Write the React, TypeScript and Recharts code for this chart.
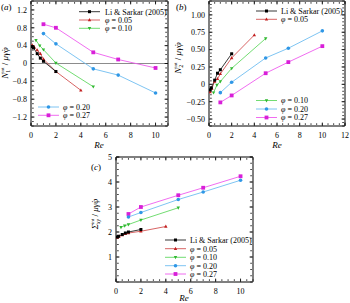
import React from "react";
import { LineChart, Line, XAxis, YAxis, ReferenceLine } from "recharts";

// Re values per series
const reLiSarkar = [0.1, 0.2, 0.5, 0.75, 1, 2];
const rePhi005 = [0.1, 0.25, 0.5, 0.75, 1, 2, 4];
const rePhi010 = [0.4, 0.7, 1, 2, 5];
const rePhi020 = [1, 2, 5, 7, 10];
const rePhi027 = [1, 2, 5, 7, 10];

// (a) N1
const n1LiSarkar = [0.38, 0.35, 0.22, 0.12, 0.05, -0.18];
const n1Phi005 = [0.41, 0.37, 0.3, 0.22, 0.1, -0.18, -0.6];
const n1Phi010 = [0.52, 0.4, 0.31, 0.01, -0.52];
const n1Phi020 = [0.67, 0.44, -0.12, -0.26, -0.66];
const n1Phi027 = [0.88, 0.8, 0.25, 0.09, -0.1];

// (b) N2
const n2LiSarkar = [-0.08, -0.05, 0.06, 0.16, 0.21, 0.44];
const n2Phi005 = [-0.11, -0.06, 0.04, 0.08, 0.15, 0.38, 0.71];
const n2Phi010 = [-0.12, -0.01, 0.04, 0.23, 0.66];
const n2Phi020 = [-0.12, 0.03, 0.38, 0.52, 0.77];
const n2Phi027 = [-0.26, -0.16, 0.16, 0.32, 0.55];

// (c) Sigma_xy
const sxyLiSarkar = [1.8, 1.83, 1.9, 1.96, 2.0, 2.1];
const sxyPhi005 = [1.78, 1.83, 1.88, 1.93, 1.96, 2.03, 2.22];
const sxyPhi010 = [2.19, 2.25, 2.3, 2.48, 2.97];
const sxyPhi020 = [2.6, 2.78, 3.3, 3.6, 4.07];
const sxyPhi027 = [2.72, 3.0, 3.47, 3.77, 4.23];

// ticks
const xTicksA = [0, 2, 4, 6, 8, 10];
const yTicksA = [-1.2, -0.8, -0.4, 0, 0.4, 0.8, 1.2];
const xTicksB = [0, 2, 4, 6, 8, 10, 12];
const yTicksB = [-0.5, -0.25, 0, 0.25, 0.5, 0.75, 1.0];
const xTicksC = [0, 2, 4, 6, 8, 10];
const yTicksC = [1, 2, 3, 4, 5];

const labels = ["Li & Sarkar (2005)", "0.05", "0.10", "0.20", "0.27"];

type Shape = "square" | "tri" | "tridown" | "circle" | "bigsquare";
const styles: { line: string; dot: string; shape: Shape }[] = [
  { line: "#222", dot: "#000", shape: "square" },
  { line: "#d25252", dot: "#c21f1f", shape: "tri" },
  { line: "#62d862", dot: "#2fb82f", shape: "tridown" },
  { line: "#6fbdf0", dot: "#2f97e6", shape: "circle" },
  { line: "#ee5cee", dot: "#d81fd8", shape: "bigsquare" },
];

const serif = "'Liberation Serif', 'Times New Roman', serif";

const Marker = ({ cx, cy, shape, color }: { cx: number; cy: number; shape: Shape; color: string }) => {
  if (cx == null || cy == null) return null;
  switch (shape) {
    case "square":
      return <rect x={cx - 1.5} y={cy - 1.5} width={3} height={3} fill={color} />;
    case "bigsquare":
      return <rect x={cx - 1.9} y={cy - 1.9} width={3.8} height={3.8} fill={color} />;
    case "tri":
      return <polygon points={`${cx},${cy - 1.9} ${cx - 1.7},${cy + 1.2} ${cx + 1.7},${cy + 1.2}`} fill={color} />;
    case "tridown":
      return <polygon points={`${cx},${cy + 1.9} ${cx - 1.7},${cy - 1.2} ${cx + 1.7},${cy - 1.2}`} fill={color} />;
    default:
      return <circle cx={cx} cy={cy} r={1.8} fill={color} />;
  }
};

const zip = (re: number[], v: number[]) => re.map((r, i) => ({ re: r, v: v[i] }));

const steps = (from: number, to: number, step: number) => {
  const out: number[] = [];
  for (let v = from; v <= to + 1e-9; v += step) out.push(Math.round(v * 1000) / 1000);
  return out;
};

const fmt = (digits: number) => (v: number) =>
  v === 0 ? "0" : v.toFixed(digits).replace("-", "\u2212");

const tickLine = { stroke: "#000", strokeWidth: 0.7 };
// tick must be truthy or recharts drops the whole axis; draw no label
const noLabel = () => <g />;

// inward tick marks + frame on all four sides (mirror axes)
const frameAxes = (
  xDomain: number[],
  yDomain: number[],
  xMajor: number[],
  yMajor: number[],
  xMinor: number[],
  yMinor: number[],
  anchor: { re: number; v: number }[]
) => [
  <XAxis key="xb" xAxisId="xb" dataKey="re" type="number" domain={xDomain} ticks={xMajor} orientation="bottom" mirror height={1} tick={noLabel} axisLine={false} tickLine={tickLine} tickSize={3.5} interval={0} allowDataOverflow />,
  <XAxis key="xbm" xAxisId="xbm" dataKey="re" type="number" domain={xDomain} ticks={xMinor} orientation="bottom" mirror height={1} tick={noLabel} axisLine={false} tickLine={tickLine} tickSize={1.8} interval={0} allowDataOverflow />,
  <XAxis key="xt" xAxisId="xt" dataKey="re" type="number" domain={xDomain} ticks={xMajor} orientation="top" mirror height={1} tick={noLabel} axisLine={{ stroke: "#000" }} tickLine={tickLine} tickSize={3.5} interval={0} allowDataOverflow />,
  <XAxis key="xtm" xAxisId="xtm" dataKey="re" type="number" domain={xDomain} ticks={xMinor} orientation="top" mirror height={1} tick={noLabel} axisLine={false} tickLine={tickLine} tickSize={1.8} interval={0} allowDataOverflow />,
  <YAxis key="yl" yAxisId="yl" type="number" domain={yDomain} ticks={yMajor} orientation="left" mirror width={1} tick={noLabel} axisLine={false} tickLine={tickLine} tickSize={3.5} interval={0} allowDataOverflow />,
  <YAxis key="ylm" yAxisId="ylm" type="number" domain={yDomain} ticks={yMinor} orientation="left" mirror width={1} tick={noLabel} axisLine={false} tickLine={tickLine} tickSize={1.8} interval={0} allowDataOverflow />,
  <YAxis key="yr" yAxisId="yr" type="number" domain={yDomain} ticks={yMajor} orientation="right" mirror width={1} tick={noLabel} axisLine={{ stroke: "#000" }} tickLine={tickLine} tickSize={3.5} interval={0} allowDataOverflow />,
  <YAxis key="yrm" yAxisId="yrm" type="number" domain={yDomain} ticks={yMinor} orientation="right" mirror width={1} tick={noLabel} axisLine={false} tickLine={tickLine} tickSize={1.8} interval={0} allowDataOverflow />,
  // invisible series so every frame axis has a graphical item attached
  ...[
    ["xb", "yl"],
    ["xbm", "ylm"],
    ["xt", "yr"],
    ["xtm", "yrm"],
  ].map(([xa, ya]) => (
    <Line key={`h-${xa}`} xAxisId={xa} yAxisId={ya} data={anchor} dataKey="v" stroke="none" dot={false} activeDot={false} legendType="none" isAnimationActive={false} />
  )),
];

const tickStyle = { fontSize: 8, fill: "#000", fontFamily: serif };

type PanelProps = {
  left: number;
  top: number;
  width: number;
  height: number;
  margin: { top: number; right: number; bottom: number; left: number };
  yWidth: number;
  xHeight: number;
  xDomain: number[];
  yDomain: number[];
  xTicks: number[];
  yTicks: number[];
  xMinor: number[];
  yMinor: number[];
  yFmt: (v: number) => string;
  values: number[][];
  zeroLine?: boolean;
};

const reSets = [reLiSarkar, rePhi005, rePhi010, rePhi020, rePhi027];

const Panel = (p: PanelProps) => {
  const order = [4, 3, 2, 1, 0];
  return (
    <div style={{ position: "absolute", left: p.left, top: p.top, width: p.width, height: p.height }}>
      <LineChart width={p.width} height={p.height} margin={p.margin}>
        <XAxis xAxisId="x" dataKey="re" type="number" domain={p.xDomain} ticks={p.xTicks} interval={0} tickLine={false} tickSize={3} tickMargin={3} axisLine={{ stroke: "#000" }} tick={tickStyle} height={p.xHeight} allowDataOverflow />
        <YAxis yAxisId="y" type="number" domain={p.yDomain} ticks={p.yTicks} interval={0} tickLine={false} tickSize={2} tickMargin={2} axisLine={{ stroke: "#000" }} tick={tickStyle} tickFormatter={p.yFmt} width={p.yWidth} allowDataOverflow />
        {frameAxes(p.xDomain, p.yDomain, p.xTicks, p.yTicks, p.xMinor, p.yMinor, zip(reSets[0], p.values[0]))}
        {p.zeroLine && <ReferenceLine xAxisId="x" yAxisId="y" y={0} stroke="#8c8c8c" strokeWidth={1} />}
        {order.map((i) => (
          <Line
            key={i}
            xAxisId="x"
            yAxisId="y"
            data={zip(reSets[i], p.values[i])}
            dataKey="v"
            stroke={styles[i].line}
            strokeWidth={0.9}
            isAnimationActive={false}
            dot={(d: any) => <Marker key={`${i}-${d.index}`} cx={d.cx} cy={d.cy} shape={styles[i].shape} color={styles[i].dot} />}
            activeDot={false}
          />
        ))}
      </LineChart>
    </div>
  );
};

const LegendRow = ({ x, y, i, tx }: { x: number; y: number; i: number; tx: number }) => (
  <g>
    <line x1={x} x2={x + 21} y1={y} y2={y} stroke={styles[i].line} strokeWidth={0.9} />
    <Marker cx={x + 10.5} cy={y} shape={styles[i].shape} color={styles[i].dot} />
    <text x={tx} y={y + 2.8} fontSize={8} fontFamily={serif} fill="#000">
      {i === 0 ? (
        labels[0]
      ) : (
        <>
          <tspan fontStyle="italic">φ</tspan>
          {" = " + labels[i]}
        </>
      )}
    </text>
  </g>
);

const YTitle = ({ x, y, sub, sigma }: { x: number; y: number; sub?: string; sigma?: boolean }) => (
  <text transform={`translate(${x},${y}) rotate(-90)`} textAnchor="middle" fontSize={9} fontFamily={serif} fill="#000">
    <tspan fontStyle="italic">{sigma ? "Σ" : "N"}</tspan>
    {sigma ? (
      <>
        <tspan fontSize={5.5} dy={2} fontStyle="italic">xy</tspan>
        <tspan fontSize={5} dx={-5} dy={-6.5}>int</tspan>
      </>
    ) : (
      <>
        <tspan fontSize={6} dy={2}>{sub}</tspan>
        <tspan fontSize={5} dx={-3} dy={-6.5}>int</tspan>
      </>
    )}
    <tspan dy={4.5}> / </tspan>
    <tspan fontStyle="italic">μγ̇φ</tspan>
  </text>
);

const PanelTag = ({ x, y, t }: { x: number; y: number; t: string }) => (
  <text x={x} y={y} fontSize={9} fontFamily={serif} fill="#000">
    (<tspan fontStyle="italic">{t}</tspan>)
  </text>
);

const XTitle = ({ x, y }: { x: number; y: number }) => (
  <text x={x} y={y} textAnchor="middle" fontSize={9} fontStyle="italic" fontFamily={serif} fill="#000">
    Re
  </text>
);

export default function App() {
  return (
    <div style={{ position: "absolute", left: 0, top: 0, width: 350, height: 303, background: "#fff", fontFamily: serif }}>
      <Panel
        left={0}
        top={0}
        width={175}
        height={150}
        margin={{ top: 1, right: 7, bottom: 4, left: 0 }}
        yWidth={31}
        xHeight={20}
        xDomain={[0, 11]}
        yDomain={[-1.4, 1.4]}
        xTicks={xTicksA}
        yTicks={yTicksA}
        xMinor={steps(0, 11, 0.5)}
        yMinor={steps(-1.4, 1.4, 0.1)}
        yFmt={fmt(1)}
        values={[n1LiSarkar, n1Phi005, n1Phi010, n1Phi020, n1Phi027]}
        zeroLine
      />
      <Panel
        left={175}
        top={0}
        width={175}
        height={150}
        margin={{ top: 1, right: 5, bottom: 4, left: 0 }}
        yWidth={34}
        xHeight={20}
        xDomain={[0, 12]}
        yDomain={[-0.6, 1.2]}
        xTicks={xTicksB}
        yTicks={yTicksB}
        xMinor={steps(0, 12, 0.5)}
        yMinor={steps(-0.6, 1.2, 0.05)}
        yFmt={fmt(2)}
        values={[n2LiSarkar, n2Phi005, n2Phi010, n2Phi020, n2Phi027]}
      />
      <Panel
        left={80}
        top={150}
        width={180}
        height={153}
        margin={{ top: 7, right: 7, bottom: 3, left: 0 }}
        yWidth={36}
        xHeight={18}
        xDomain={[0, 11]}
        yDomain={[0, 5]}
        xTicks={xTicksC}
        yTicks={yTicksC}
        xMinor={steps(0, 11, 0.5)}
        yMinor={steps(0, 5, 0.25)}
        yFmt={(v: number) => String(v)}
        values={[sxyLiSarkar, sxyPhi005, sxyPhi010, sxyPhi020, sxyPhi027]}
      />
      <svg width={350} height={303} style={{ position: "absolute", left: 0, top: 0, pointerEvents: "none" }}>
        <PanelTag x={1} y={10} t="a" />
        <PanelTag x={176} y={10} t="b" />
        <PanelTag x={91} y={170} t="c" />
        <YTitle x={8} y={63} sub="1" />
        <YTitle x={181} y={58} sub="2" />
        <YTitle x={98} y={214} sigma />
        <XTitle x={99} y={147.5} />
        <XTitle x={277} y={147.5} />
        <XTitle x={184} y={300.5} />
        {/* (a) legends */}
        <LegendRow x={79} y={11.7} i={0} tx={105} />
        <LegendRow x={79} y={20} i={1} tx={105} />
        <LegendRow x={79} y={28.3} i={2} tx={105} />
        <LegendRow x={38} y={107} i={3} tx={63} />
        <LegendRow x={38} y={115.3} i={4} tx={63} />
        {/* (b) legends */}
        <LegendRow x={256} y={11} i={0} tx={281} />
        <LegendRow x={256} y={19.3} i={1} tx={281} />
        <LegendRow x={256} y={100.5} i={2} tx={281} />
        <LegendRow x={256} y={109} i={3} tx={281} />
        <LegendRow x={256} y={117.5} i={4} tx={281} />
        {/* (c) legend */}
        <LegendRow x={165} y={240} i={0} tx={190} />
        <LegendRow x={165} y={248.7} i={1} tx={190} />
        <LegendRow x={165} y={257.3} i={2} tx={190} />
        <LegendRow x={165} y={265.7} i={3} tx={190} />
        <LegendRow x={165} y={274} i={4} tx={190} />
      </svg>
    </div>
  );
}
